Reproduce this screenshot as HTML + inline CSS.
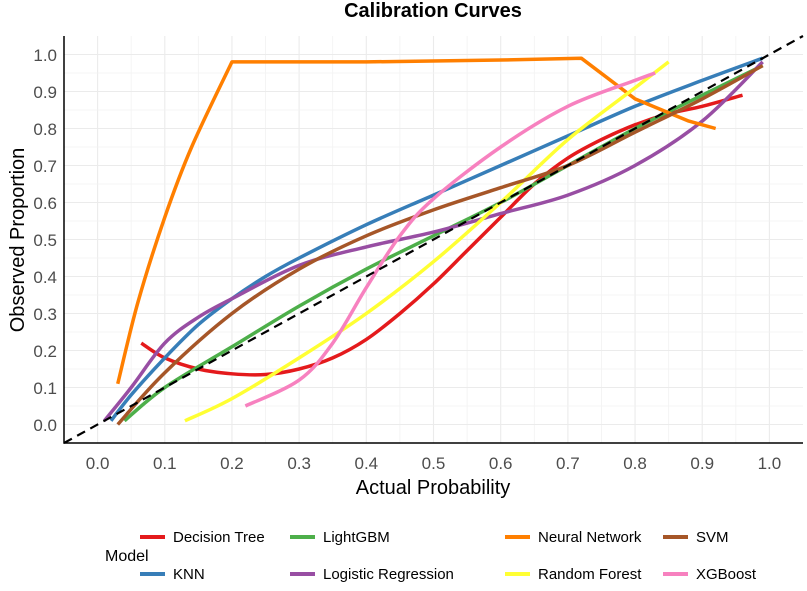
<!DOCTYPE html>
<html><head><meta charset="utf-8"><style>
body{margin:0;background:#fff;}
svg text{font-family:"Liberation Sans",sans-serif;}
</style></head><body>
<svg id="c" width="807" height="586" xmlns="http://www.w3.org/2000/svg">
<text x="433" y="17" text-anchor="middle" font-size="20" font-weight="bold" fill="#000">Calibration Curves</text>
<g id="grid"></g><g id="lines"></g><g id="axes"></g>
<text x="433" y="494" text-anchor="middle" font-size="20" fill="#000">Actual Probability</text>
<text transform="translate(24,240) rotate(-90)" text-anchor="middle" font-size="20" fill="#000">Observed Proportion</text>
<text x="105" y="561" font-size="16" fill="#000">Model</text>
<g id="legend"></g>
</svg>
<script>
const models=["Decision Tree","KNN","LightGBM","Logistic Regression","Neural Network","Random Forest","SVM","XGBoost"];
const colors=["#E41A1C","#377EB8","#4DAF4A","#984EA3","#FF7F00","#FFFF33","#A65628","#F781BF"];
const xTicks=[0,0.1,0.2,0.3,0.4,0.5,0.6,0.7,0.8,0.9,1.0];
const yTicks=[0,0.1,0.2,0.3,0.4,0.5,0.6,0.7,0.8,0.9,1.0];
const dtX=[0.065,0.1,0.15,0.2,0.25,0.3,0.35,0.4,0.45,0.5,0.55,0.6,0.65,0.7,0.75,0.8,0.85,0.9,0.96];
const dtY=[0.22,0.18,0.15,0.137,0.135,0.15,0.18,0.23,0.30,0.38,0.47,0.56,0.65,0.72,0.77,0.81,0.84,0.86,0.89];
const knnX=[0.02,0.05,0.1,0.15,0.2,0.25,0.3,0.4,0.5,0.6,0.7,0.8,0.9,0.99];
const knnY=[0.01,0.08,0.18,0.27,0.34,0.40,0.45,0.54,0.62,0.70,0.78,0.86,0.93,0.99];
const lgbX=[0.04,0.1,0.2,0.3,0.4,0.5,0.6,0.7,0.8,0.9,0.99];
const lgbY=[0.01,0.10,0.21,0.32,0.42,0.51,0.60,0.70,0.80,0.89,0.97];
const lrX=[0.01,0.05,0.1,0.15,0.2,0.3,0.4,0.5,0.6,0.7,0.8,0.9,0.99];
const lrY=[0.01,0.10,0.22,0.29,0.34,0.43,0.48,0.52,0.57,0.62,0.70,0.82,0.98];
const nnX=[0.03,0.06,0.1,0.14,0.2,0.4,0.6,0.72,0.8,0.88,0.92];
const nnY=[0.11,0.33,0.56,0.75,0.98,0.98,0.985,0.99,0.88,0.82,0.80];
const rfX=[0.13,0.2,0.3,0.4,0.5,0.6,0.7,0.8,0.85];
const rfY=[0.01,0.07,0.18,0.30,0.44,0.60,0.77,0.91,0.98];
const svmX=[0.03,0.1,0.2,0.3,0.4,0.5,0.6,0.7,0.8,0.9,0.99];
const svmY=[0.0,0.14,0.30,0.42,0.51,0.58,0.64,0.70,0.79,0.88,0.97];
const xgbX=[0.22,0.3,0.35,0.4,0.45,0.5,0.6,0.7,0.8,0.83];
const xgbY=[0.05,0.12,0.22,0.37,0.51,0.61,0.75,0.86,0.93,0.95];
const seriesX=[dtX,knnX,lgbX,lrX,nnX,rfX,svmX,xgbX];
const seriesY=[dtY,knnY,lgbY,lrY,nnY,rfY,svmY,xgbY];
const X0=64,X1=803,Y0=443,Y1=36,MIN=-0.05,MAX=1.05;
const sx=v=>X0+(v-MIN)/(MAX-MIN)*(X1-X0);
const sy=v=>Y0-(v-MIN)/(MAX-MIN)*(Y0-Y1);
const NS="http://www.w3.org/2000/svg";
function mk(t,a,p){const e=document.createElementNS(NS,t);for(const k in a)e.setAttribute(k,a[k]);p.appendChild(e);return e;}
const grid=document.getElementById('grid'),axes=document.getElementById('axes'),lines=document.getElementById('lines'),leg=document.getElementById('legend');
for(let i=0;i<xTicks.length;i++){
 const x=sx(xTicks[i]);
 const g=mk('line',{x1:x,x2:x,y1:Y1,y2:Y0,stroke:'#ebebeb','stroke-width':1.1},grid);
 
 
 if(i<xTicks.length-1){const m=sx(xTicks[i]+0.05);const gm=mk('line',{x1:m,x2:m,y1:Y1,y2:Y0,stroke:'#f2f2f2','stroke-width':0.8},grid);
 
 }
 const t=mk('text',{x:x,y:469,'text-anchor':'middle','font-size':17,fill:'#4d4d4d'},axes);t.textContent=xTicks[i].toFixed(1);
 
 
}
for(let i=0;i<yTicks.length;i++){
 const y=sy(yTicks[i]);
 const g=mk('line',{x1:X0,x2:X1,y1:y,y2:y,stroke:'#ebebeb','stroke-width':1.1},grid);
 
 
 if(i<yTicks.length-1){const m=sy(yTicks[i]+0.05);const gm=mk('line',{x1:X0,x2:X1,y1:m,y2:m,stroke:'#f2f2f2','stroke-width':0.8},grid);
 
 }
 const t=mk('text',{x:57,y:y+6.5,'text-anchor':'end','font-size':17,fill:'#4d4d4d'},axes);t.textContent=yTicks[i].toFixed(1);
 
 
}
const ax=mk('path',{d:`M${X0},${Y1}V${Y0}H${X1}`,fill:'none',stroke:'#000','stroke-width':1.5},axes);


function smooth(px,py){let d=`M${px[0]},${py[0]}`;for(let i=0;i<px.length-1;i++){const i0=Math.max(0,i-1),i3=Math.min(px.length-1,i+2);
 const c1x=px[i]+(px[i+1]-px[i0])/6,c1y=py[i]+(py[i+1]-py[i0])/6,c2x=px[i+1]-(px[i3]-px[i])/6,c2y=py[i+1]-(py[i3]-py[i])/6;
 d+=`C${c1x},${c1y} ${c2x},${c2y} ${px[i+1]},${py[i+1]}`;}return d;}
for(let s=0;s<models.length;s++){
 const px=seriesX[s].map(sx),py=seriesY[s].map(sy);
 let d;
 if(models[s]==="Neural Network"){const k=nnX.indexOf(0.2);d=smooth(px.slice(0,k+1),py.slice(0,k+1));for(let i=k+1;i<px.length;i++)d+=`L${px[i]},${py[i]}`;}
 else d=smooth(px,py);
 const p=mk('path',{d:d,fill:'none',stroke:colors[s],'stroke-width':3.5,'stroke-linejoin':'round'},lines);
 
 
}
const diag=mk('line',{x1:sx(MIN),y1:sy(MIN),x2:sx(MAX),y2:sy(MAX),stroke:'#000','stroke-width':2.2,'stroke-dasharray':'9,6'},lines);


const legOrder=[0,2,4,6,1,3,5,7];
const colX=[140,290,505,663];
for(let j=0;j<8;j++){
 const s=legOrder[j],col=j%4,row=Math.floor(j/4),y=row?574:537;
 const k=mk('line',{x1:colX[col],x2:colX[col]+25,y1:y,y2:y,stroke:colors[s],'stroke-width':4},leg);
 
 
 const t=mk('text',{x:colX[col]+33,y:y+5,'font-size':15,fill:'#000'},leg);t.textContent=models[s];
 
 
}
</script>
</body></html>
